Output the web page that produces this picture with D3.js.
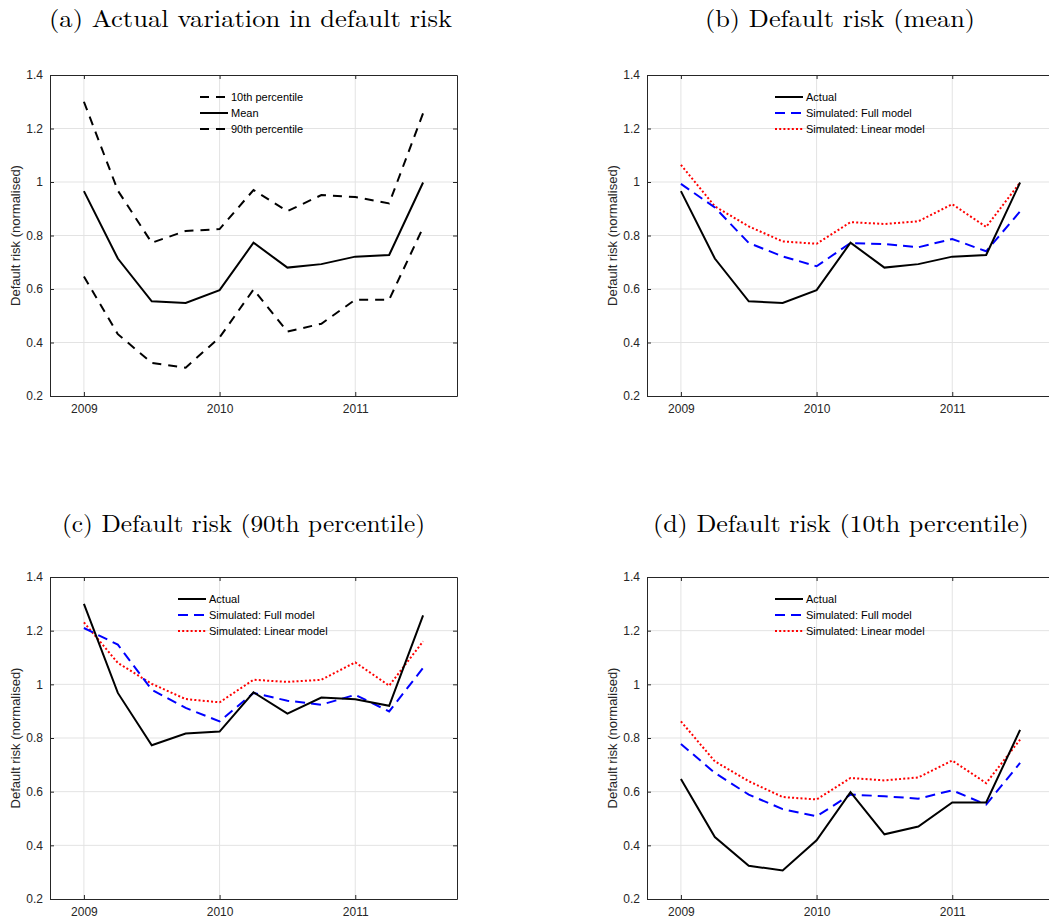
<html>
<head>
  <script src="https://d3js.org/d3.v7.min.js"></script>
  <style>
    body{ margin:0; background:#fff; }
    svg{ display:block; font-family: "Liberation Sans", Arial, sans-serif; }
    .title{ font-family: "Latin Modern Roman", "DejaVu Serif", "Liberation Serif", serif; font-size:24px; fill:#000; }
    .tick text{ font-size:12px; fill:#262626; }
    .ylab{ font-size:13px; fill:#262626; }
    .legend text{ font-size:11px; fill:#000; }
  </style>
</head>
<body>
<script>
// quarters shown on the x axis
var quarters = [2009, 2009.25, 2009.5, 2009.75, 2010, 2010.25, 2010.5, 2010.75, 2011, 2011.25, 2011.5];
var yearTicks = [2009, 2010, 2011];
var riskTicks = [0.2, 0.4, 0.6, 0.8, 1, 1.2, 1.4];

// actual default risk
var actualMean = [0.966, 0.714, 0.554, 0.548, 0.596, 0.773, 0.680, 0.693, 0.721, 0.727, 0.998];
var actualP90  = [1.300, 0.968, 0.773, 0.817, 0.824, 0.970, 0.891, 0.951, 0.944, 0.920, 1.257];
var actualP10  = [0.647, 0.431, 0.324, 0.306, 0.419, 0.598, 0.441, 0.470, 0.560, 0.560, 0.830];

// simulated
var fullMean = [0.993, 0.905, 0.772, 0.722, 0.685, 0.772, 0.768, 0.756, 0.787, 0.741, 0.890];
var linMean  = [1.064, 0.909, 0.834, 0.778, 0.769, 0.850, 0.843, 0.853, 0.917, 0.832, 0.998];
var fullP90  = [1.210, 1.148, 0.980, 0.912, 0.862, 0.968, 0.939, 0.924, 0.961, 0.899, 1.061];
var linP90   = [1.231, 1.080, 1.002, 0.945, 0.933, 1.017, 1.009, 1.017, 1.082, 0.995, 1.160];
var fullP10  = [0.778, 0.670, 0.589, 0.535, 0.508, 0.589, 0.583, 0.574, 0.605, 0.552, 0.707];
var linP10   = [0.862, 0.713, 0.639, 0.580, 0.571, 0.651, 0.642, 0.653, 0.716, 0.632, 0.794];

var simNames = ["Actual", "Simulated: Full model", "Simulated: Linear model"];

var solid = {color:"#000", dash:null}
var dashK = {color:"#000", dash:"9,7"}
var dashB = {color:"#0000ff", dash:"10,6"}
var dotR  = {color:"#ff0000", dash:"2,2.2"}

var svg = d3.select("body").append("svg")
  .attr("width", 1049).attr("height", 921)

var panels = [
  {title:"(a) Actual variation in default risk", tx:49, ty:27, tw:403,
   box:{l:50, r:457, t:75, b:396}, leg:{x:150},
   series:[
     {name:"10th percentile", vals:actualP10, st:dashK},
     {name:"Mean", vals:actualMean, st:solid},
     {name:"90th percentile", vals:actualP90, st:dashK}
   ]},
  {title:"(b) Default risk (mean)", tx:705, ty:27, tw:270,
   box:{l:647, r:1054, t:75, b:396}, leg:{x:128},
   series:[
     {name:simNames[0], vals:actualMean, st:solid},
     {name:simNames[1], vals:fullMean, st:dashB},
     {name:simNames[2], vals:linMean, st:dotR}
   ]},
  {title:"(c) Default risk (90th percentile)", tx:62, ty:532, tw:363,
   box:{l:50, r:457, t:577, b:899}, leg:{x:128},
   series:[
     {name:simNames[0], vals:actualP90, st:solid},
     {name:simNames[1], vals:fullP90, st:dashB},
     {name:simNames[2], vals:linP90, st:dotR}
   ]},
  {title:"(d) Default risk (10th percentile)", tx:653, ty:532, tw:376,
   box:{l:647, r:1054, t:577, b:899}, leg:{x:128},
   series:[
     {name:simNames[0], vals:actualP10, st:solid},
     {name:simNames[1], vals:fullP10, st:dashB},
     {name:simNames[2], vals:linP10, st:dotR}
   ]}
]

panels.forEach(function(p){
  var b = p.box
  var x = d3.scaleLinear().domain([2008.75, 2011.75]).range([b.l, b.r])
  var y = d3.scaleLinear().domain([0.2, 1.4]).range([b.b, b.t])

  svg.append("text").classed("title", true)
     .attr("x", p.tx).attr("y", p.ty)
     .attr("textLength", p.tw).attr("lengthAdjust", "spacingAndGlyphs")
     .text(p.title)

  // grid
  var g = svg.append("g")
  g.selectAll(".vg").data(yearTicks).enter().append("line")
   .attr("x1", d => x(d)).attr("x2", d => x(d))
   .attr("y1", b.t).attr("y2", b.b)
   .attr("stroke", "#e3e3e3")
  g.selectAll(".hg").data(riskTicks.slice(1, -1)).enter().append("line")
   .attr("y1", d => y(d)).attr("y2", d => y(d))
   .attr("x1", b.l).attr("x2", b.r)
   .attr("stroke", "#e3e3e3")

  // axes (MATLAB style: ticks inside, on all sides)
  var axB = svg.append("g").attr("transform", "translate(0," + b.b + ")")
    .call(d3.axisBottom(x).tickValues(yearTicks).tickFormat(d3.format("d")).tickSizeInner(-4).tickSizeOuter(0).tickPadding(8))
  var axT = svg.append("g").attr("transform", "translate(0," + b.t + ")")
    .call(d3.axisTop(x).tickValues(yearTicks).tickFormat("").tickSizeInner(-4).tickSizeOuter(0))
  var axL = svg.append("g").attr("transform", "translate(" + b.l + ",0)")
    .call(d3.axisLeft(y).tickValues(riskTicks).tickFormat(d => d3.format("")(+d.toFixed(1))).tickSizeInner(-4).tickSizeOuter(0).tickPadding(7))
  var axR = svg.append("g").attr("transform", "translate(" + b.r + ",0)")
    .call(d3.axisRight(y).tickValues(riskTicks).tickFormat("").tickSizeInner(-4).tickSizeOuter(0))
  ;[axB, axT, axL, axR].forEach(function(a){
    a.selectAll("path").attr("stroke", "#262626")
    a.selectAll("line").attr("stroke", "#262626")
  })
  axB.selectAll("text").attr("dy", "0.71em")

  svg.append("text").classed("ylab", true)
     .attr("transform", "translate(" + (b.l - 30) + "," + ((b.t + b.b) / 2) + ") rotate(-90)")
     .attr("text-anchor", "middle")
     .text("Default risk (normalised)")

  // lines
  var line = d3.line().x((d, i) => x(quarters[i])).y(d => y(d))
  p.series.slice().reverse().forEach(function(s){
    svg.append("path").datum(s.vals)
       .attr("d", line)
       .attr("fill", "none")
       .attr("stroke", s.st.color)
       .attr("stroke-width", 2)
       .attr("stroke-dasharray", s.st.dash)
  })

  // legend
  var legend = svg.append("g").classed("legend", true)
    .attr("transform", "translate(" + (b.l + p.leg.x) + "," + (b.t + 22) + ")")
  var rows = legend.selectAll("g").data(p.series).enter().append("g")
    .attr("transform", (d, i) => "translate(0," + i * 16 + ")")
  rows.append("line")
    .attr("x1", 0).attr("x2", 28).attr("y1", 0).attr("y2", 0)
    .attr("stroke", d => d.st.color).attr("stroke-width", 2)
    .attr("stroke-dasharray", d => d.st.dash)
  rows.append("text")
    .attr("x", 31).attr("y", 0).attr("dy", "0.35em")
    .text(d => d.name)
})
</script>
</body>
</html>
